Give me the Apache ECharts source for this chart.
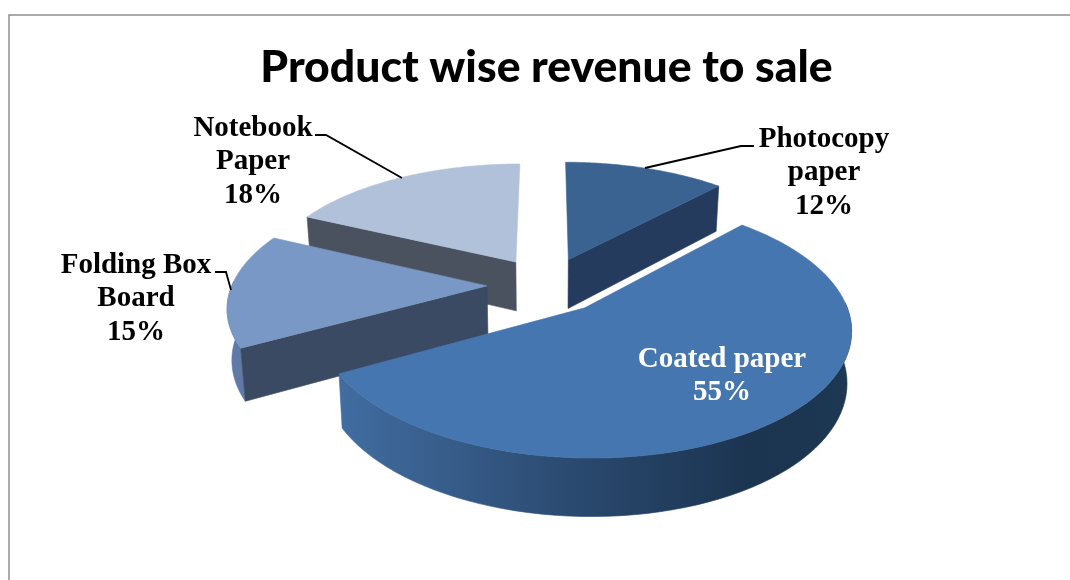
<!DOCTYPE html>
<html><head><meta charset="utf-8">
<style>html,body{margin:0;padding:0;background:#fff}#c{width:1070px;height:580px}</style>
<script src="https://cdn.jsdelivr.net/npm/echarts@6/dist/echarts.min.js"></script>
</head><body><div id="c"></div>
<script>
const categories = ['Photocopy\npaper', 'Coated paper', 'Folding Box\nBoard', 'Notebook\nPaper'];
const shares = [12, 55, 15, 18];

// appearance and layout, separate from the data
const topColors = ['#3a6392', '#4676af', '#7a98c5', '#b2c1da'];
const wallColors = ['#253b5d', '#2b4a70', '#3a4a62', '#4a5260'];
const arcColors = ['#253b5d', null, '#5f7aa6', '#4a5260'];
const paintOrder = [3, 0, 2, 1];
const labelBoxes = [[824, 173], [722, 376], [136, 299], [253, 162]];
const labelColors = ['#000', '#fff', '#000', '#000'];
const leaders = [
  [[754, 146], [741, 146], [645, 168]],
  null,
  [[215, 272], [226, 272], [231, 290]],
  [[315, 135], [326, 135], [402, 178]]
];
const cam = {cx: 547, cy: 285, a: 255, b: 119.5, k: 0.153, explode: 0.235, depth: 50, shrink: 0.985};

function project(X, Y, low) {
  const s = 1 / (1 + cam.k * Y);
  const x = cam.a * X * s * (low ? cam.shrink : 1);
  const y = cam.b * Y * s * (low ? cam.shrink : 1);
  return [cam.cx + x, cam.cy - y + (low ? cam.depth * s : 0)];
}
const total = shares.reduce((p, v) => p + v, 0);
function sliceGeom(i) {
  let before = 0;
  for (let j = 0; j < i; j++) before += shares[j];
  const t0 = before / total * 2 * Math.PI;
  const t1 = (before + shares[i]) / total * 2 * Math.PI;
  const tm = (t0 + t1) / 2;
  const ox = Math.sin(tm) * cam.explode, oy = Math.cos(tm) * cam.explode;
  const n = 80, arc = [], front = [];
  for (let q = 0; q <= n; q++) {
    const t = t0 + (t1 - t0) * q / n;
    const p = [ox + Math.sin(t), oy + Math.cos(t)];
    arc.push(p);
    if (Math.cos(t) < 0.05) front.push(p);
  }
  return {ox, oy, arc, front, t0, t1};
}
function poly(points, fill) {
  return {type: 'polygon', shape: {points}, style: {fill, stroke: fill, lineWidth: 0.6}};
}
function renderItem(params, api) {
  const i = paintOrder[params.dataIndex];
  const g = sliceGeom(i);
  const topArc = g.arc.map(p => project(p[0], p[1], false));
  const lowArc = g.arc.map(p => project(p[0], p[1], true));
  const frontTop = g.front.map(p => project(p[0], p[1], false));
  const frontLow = g.front.map(p => project(p[0], p[1], true));
  const tip = project(g.ox, g.oy, false), tipLow = project(g.ox, g.oy, true);
  const first = topArc[0], last = topArc[topArc.length - 1];
  const firstLow = lowArc[0], lastLow = lowArc[lowArc.length - 1];
  const arcFill = arcColors[i] || {
    type: 'linear', x: 0, y: 0, x2: 1, y2: 0,
    colorStops: [{offset: 0, color: '#416da1'}, {offset: 0.45, color: '#2b4a70'}, {offset: 0.8, color: '#1b3450'}, {offset: 1, color: '#1d3852'}],
    global: false
  };
  const children = [];
  if (frontTop.length > 1) children.push(poly(frontTop.concat(frontLow.slice().reverse()), arcFill));
  // a cut face is drawn only when it looks towards the viewer
  if (Math.sin(g.t0) < -1e-6) children.push(poly([tip, first, firstLow, tipLow], wallColors[i]));
  if (Math.sin(g.t1) > 1e-6) children.push(poly([tip, last, lastLow, tipLow], wallColors[i]));
  children.push(poly([tip].concat(topArc), topColors[i]));
  return {type: 'group', children};
}
function labelItem(params, api) {
  const i = params.dataIndex;
  const children = [{
    type: 'text',
    style: {
      x: labelBoxes[i][0], y: labelBoxes[i][1],
      text: categories[i] + '\n' + shares[i] + '%',
      fill: labelColors[i], align: 'center', verticalAlign: 'middle',
      font: 'bold 29px "Liberation Serif"', lineHeight: 33.5
    }
  }];
  if (leaders[i]) children.push({
    type: 'polyline', shape: {points: leaders[i]},
    style: {stroke: '#000', lineWidth: 1.8, fill: null}
  });
  return {type: 'group', children};
}
const chart = echarts.init(document.getElementById('c'), null, {renderer: 'canvas'});
chart.setOption({
  animation: false,
  backgroundColor: '#fff',
  title: {
    text: 'Product wise revenue to sale', left: 541.5, top: 40, textAlign: 'center',
    textStyle: {fontFamily: 'Lato', fontWeight: 900, fontSize: 44.5, color: '#000'}
  },
  graphic: [{type: 'polyline', silent: true, z: -1,
    shape: {points: [[9, 580], [9, 15], [1070, 15]]},
    style: {stroke: '#8e8e8e', lineWidth: 1.5, fill: null}}],
  series: [
    {type: 'custom', coordinateSystem: 'none', silent: true, z: 2, renderItem,
     data: paintOrder.map(i => [shares[i]])},
    {type: 'custom', coordinateSystem: 'none', silent: true, z: 3, renderItem: labelItem,
     data: shares.map(v => [v])}
  ]
});
</script></body></html>
